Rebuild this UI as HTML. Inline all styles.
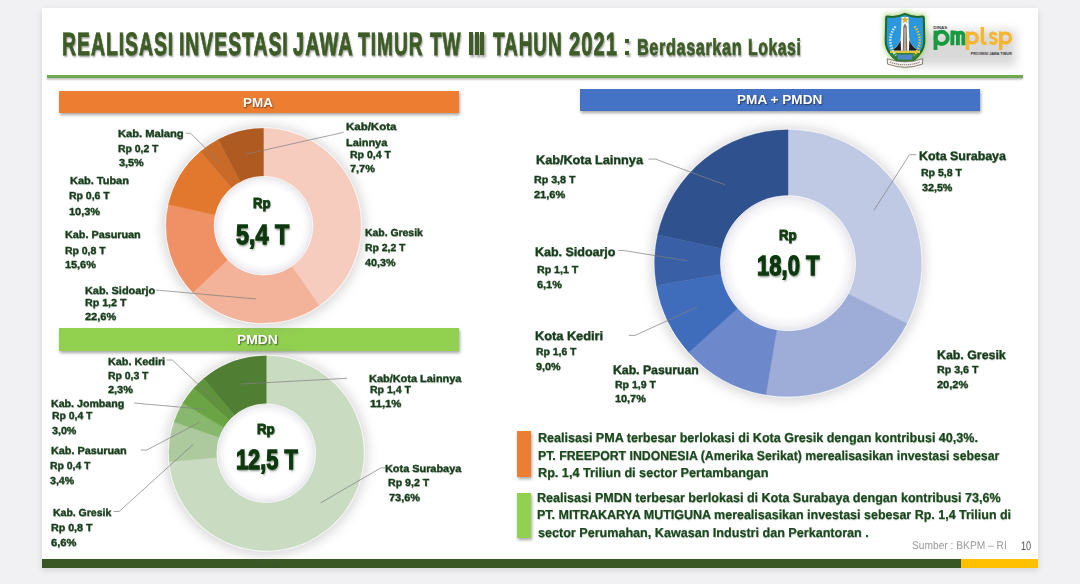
<!DOCTYPE html>
<html><head><meta charset="utf-8"><title>Realisasi Investasi Jawa Timur</title>
<style>
html,body{margin:0;padding:0}
body{width:1080px;height:584px;overflow:hidden;background:#f1f1f4;font-family:"Liberation Sans",sans-serif;position:relative}
.slide{position:absolute;left:42px;top:7.5px;width:996px;height:560.5px;background:#fff;box-shadow:0 2px 6px rgba(0,0,0,.13)}
.abs{position:absolute}
.chart{position:absolute;left:0;top:0}
.t{position:absolute;white-space:nowrap;line-height:1;transform-origin:0 0;font-weight:bold;text-rendering:geometricPrecision;color:#173c1b}
.lab{text-shadow:.4px .6px .8px rgba(20,50,20,.3);-webkit-text-stroke:.35px #173c1b}
.para{color:#1a481d;text-shadow:.4px .6px .8px rgba(20,50,20,.28);-webkit-text-stroke:.2px #1a481d}
.ban{color:#fff;text-shadow:.8px 1px 1.5px rgba(0,0,0,.55)}
.src{font-weight:normal;color:#989898}
.pg{font-weight:normal;color:#555}
.ctr{color:#123d12;text-shadow:.8px 1.2px 1.5px rgba(0,30,0,.45);-webkit-text-stroke:.9px #123d12}
.ctrb{color:#0d380e;text-shadow:1px 1.5px 2.5px rgba(0,30,0,.5);-webkit-text-stroke:1.3px #0d380e}
.ttl{color:#3d5c26;text-shadow:1.6px 2.2px 2.5px rgba(0,0,0,.4);-webkit-text-stroke:.9px #3d5c26}
.ttl2{color:#3d5c26;text-shadow:1.3px 1.8px 2px rgba(0,0,0,.4);-webkit-text-stroke:.7px #3d5c26}
.bar{position:absolute;box-shadow:1px 2px 3px rgba(0,0,0,.35)}
</style></head>
<body>
<div class="slide"></div>
<div class="abs" style="left:47px;top:74.6px;width:975.5px;height:3.6px;background:#6ea84f;box-shadow:0 1.5px 2px rgba(0,0,0,.3)"></div>
<div class="bar" style="left:58.8px;top:91.3px;width:400.7px;height:21.7px;background:#ed7d31"></div>
<div class="bar" style="left:58.8px;top:328px;width:400.5px;height:23.2px;background:#92d050"></div>
<div class="bar" style="left:580px;top:88.8px;width:400px;height:22.5px;background:#4472c4"></div>
<div class="bar" style="left:517px;top:431.3px;width:14.3px;height:45.7px;background:#ed7d31"></div>
<div class="bar" style="left:517px;top:493px;width:13.8px;height:44.5px;background:#92d050"></div>
<div class="abs" style="left:42px;top:559px;width:919px;height:9px;background:#385723"></div>
<div class="abs" style="left:960.5px;top:559px;width:77.5px;height:9px;background:#ffc000"></div>
<div class="abs" style="left:624.8px;top:38.9px;width:4.3px;height:4.2px;background:#3d5c26;box-shadow:1.5px 2px 2px rgba(0,0,0,.35)"></div>
<div class="abs" style="left:624.8px;top:51.2px;width:4.3px;height:4.2px;background:#3d5c26;box-shadow:1.5px 2px 2px rgba(0,0,0,.35)"></div>
<div class="abs" style="left:469.3px;top:32.1px;width:3.9px;height:23.3px;background:#3d5c26;box-shadow:1.6px 2.2px 2.5px rgba(0,0,0,.4)"></div>
<div class="abs" style="left:474.8px;top:32.1px;width:3.9px;height:23.3px;background:#3d5c26;box-shadow:1.6px 2.2px 2.5px rgba(0,0,0,.4)"></div>
<div class="abs" style="left:480.3px;top:32.1px;width:3.9px;height:23.3px;background:#3d5c26;box-shadow:1.6px 2.2px 2.5px rgba(0,0,0,.4)"></div>
<svg class="chart" width="1080" height="584" viewBox="0 0 1080 584">
<defs>
<filter id="sh" x="-30%" y="-30%" width="160%" height="160%"><feGaussianBlur stdDeviation="6"/></filter>
<filter id="hb" x="-20%" y="-20%" width="140%" height="140%"><feGaussianBlur stdDeviation="2.4"/></filter>
<radialGradient id="hg"><stop offset="0" stop-color="#fff"/><stop offset=".8" stop-color="#fff"/><stop offset=".93" stop-color="#f3f3f6"/><stop offset="1" stop-color="#e3e3ea"/></radialGradient>
</defs>
<circle cx="263.5" cy="226.7" r="101" fill="#7a7a7a" opacity=".3" filter="url(#sh)"/>
<circle cx="263.5" cy="225.7" r="98.5" fill="#fff" opacity=".85"/>
<path d="M263.50,128.30A97.4,97.4 0 0 1 319.25,305.56L291.15,265.30A48.3,48.3 0 0 0 263.50,177.40Z" fill="#f6ccbe" stroke="#f6ccbe" stroke-width=".4"/>
<path d="M319.25,305.56A97.4,97.4 0 0 1 192.92,292.82L228.50,258.98A48.3,48.3 0 0 0 291.15,265.30Z" fill="#f3b29a" stroke="#f3b29a" stroke-width=".4"/>
<path d="M192.92,292.82A97.4,97.4 0 0 1 168.45,204.45L216.36,215.16A48.3,48.3 0 0 0 228.50,258.98Z" fill="#ef9164" stroke="#ef9164" stroke-width=".4"/>
<path d="M168.45,204.45A97.4,97.4 0 0 1 200.48,151.44L232.25,188.87A48.3,48.3 0 0 0 216.36,215.16Z" fill="#e2772e" stroke="#e2772e" stroke-width=".4"/>
<path d="M200.48,151.44A97.4,97.4 0 0 1 218.19,139.48L241.03,182.94A48.3,48.3 0 0 0 232.25,188.87Z" fill="#ca6a28" stroke="#ca6a28" stroke-width=".4"/>
<path d="M218.19,139.48A97.4,97.4 0 0 1 263.50,128.30L263.50,177.40A48.3,48.3 0 0 0 241.03,182.94Z" fill="#ae5a21" stroke="#ae5a21" stroke-width=".4"/>
<circle cx="263.5" cy="225.7" r="49.3" fill="url(#hg)" stroke="#fff" stroke-opacity=".75" stroke-width="1"/>
<circle cx="266.3" cy="454.2" r="101" fill="#7a7a7a" opacity=".3" filter="url(#sh)"/>
<circle cx="266.3" cy="453.2" r="98.5" fill="#fff" opacity=".85"/>
<path d="M266.30,355.80A97.4,97.4 0 1 1 169.28,461.76L218.19,457.44A48.3,48.3 0 1 0 266.30,404.90Z" fill="#c9dbc1" stroke="#c9dbc1" stroke-width=".4"/>
<path d="M169.28,461.76A97.4,97.4 0 0 1 174.05,421.94L220.56,437.70A48.3,48.3 0 0 0 218.19,457.44Z" fill="#acca9e" stroke="#acca9e" stroke-width=".4"/>
<path d="M174.05,421.94A97.4,97.4 0 0 1 182.78,403.09L224.88,428.35A48.3,48.3 0 0 0 220.56,437.70Z" fill="#88b76e" stroke="#88b76e" stroke-width=".4"/>
<path d="M182.78,403.09A97.4,97.4 0 0 1 193.65,388.33L230.27,421.03A48.3,48.3 0 0 0 224.88,428.35Z" fill="#6ba543" stroke="#6ba543" stroke-width=".4"/>
<path d="M193.65,388.33A97.4,97.4 0 0 1 203.74,378.54L235.28,416.18A48.3,48.3 0 0 0 230.27,421.03Z" fill="#5f933b" stroke="#5f933b" stroke-width=".4"/>
<path d="M203.74,378.54A97.4,97.4 0 0 1 266.30,355.80L266.30,404.90A48.3,48.3 0 0 0 235.28,416.18Z" fill="#507e32" stroke="#507e32" stroke-width=".4"/>
<circle cx="266.3" cy="453.2" r="49.3" fill="url(#hg)" stroke="#fff" stroke-opacity=".75" stroke-width="1"/>
<circle cx="788" cy="264.2" r="137" fill="#7a7a7a" opacity=".3" filter="url(#sh)"/>
<circle cx="788" cy="263.2" r="134.5" fill="#fff" opacity=".85"/>
<path d="M788.00,129.80A133.4,133.4 0 0 1 906.98,323.52L847.22,293.22A66.4,66.4 0 0 0 788.00,196.80Z" fill="#c0c9e4" stroke="#c0c9e4" stroke-width=".4"/>
<path d="M906.98,323.52A133.4,133.4 0 0 1 765.91,394.76L777.01,328.68A66.4,66.4 0 0 0 847.22,293.22Z" fill="#9eadd8" stroke="#9eadd8" stroke-width=".4"/>
<path d="M765.91,394.76A133.4,133.4 0 0 1 688.85,352.44L738.65,307.62A66.4,66.4 0 0 0 777.01,328.68Z" fill="#6d89cb" stroke="#6d89cb" stroke-width=".4"/>
<path d="M688.85,352.44A133.4,133.4 0 0 1 656.48,285.49L722.53,274.30A66.4,66.4 0 0 0 738.65,307.62Z" fill="#406dbb" stroke="#406dbb" stroke-width=".4"/>
<path d="M656.48,285.49A133.4,133.4 0 0 1 657.67,234.74L723.13,249.03A66.4,66.4 0 0 0 722.53,274.30Z" fill="#3960a7" stroke="#3960a7" stroke-width=".4"/>
<path d="M657.67,234.74A133.4,133.4 0 0 1 788.00,129.80L788.00,196.80A66.4,66.4 0 0 0 723.13,249.03Z" fill="#2f528f" stroke="#2f528f" stroke-width=".4"/>
<circle cx="788" cy="263.2" r="67.4" fill="url(#hg)" stroke="#fff" stroke-opacity=".75" stroke-width="1"/>
<polyline points="185.8,133.3 190.5,133.3 222.3,164.7" fill="none" stroke="#808080" stroke-opacity=".85" stroke-width=".85"/><polyline points="343.8,132.3 245.9,154.2" fill="none" stroke="#808080" stroke-opacity=".85" stroke-width=".85"/><polyline points="155.8,290.0 256.1,299.0" fill="none" stroke="#808080" stroke-opacity=".85" stroke-width=".85"/><polyline points="166.7,360.0 172.3,360.0 215.0,400.3" fill="none" stroke="#808080" stroke-opacity=".85" stroke-width=".85"/><polyline points="134.1,403.0 207.0,409.5" fill="none" stroke="#808080" stroke-opacity=".85" stroke-width=".85"/><polyline points="140.7,450.0 146.8,450.0 199.5,422.3" fill="none" stroke="#808080" stroke-opacity=".85" stroke-width=".85"/><polyline points="113.6,511.5 119.1,511.5 193.2,444.4" fill="none" stroke="#808080" stroke-opacity=".85" stroke-width=".85"/><polyline points="347.1,378.3 241.1,384.0" fill="none" stroke="#808080" stroke-opacity=".85" stroke-width=".85"/><polyline points="385.0,467.8 381.0,467.8 320.6,502.9" fill="none" stroke="#808080" stroke-opacity=".85" stroke-width=".85"/><polyline points="916.3,154.7 909.5,154.7 873.8,210.5" fill="none" stroke="#808080" stroke-opacity=".85" stroke-width=".85"/><polyline points="648.4,159.1 655.6,159.1 724.8,184.8" fill="none" stroke="#808080" stroke-opacity=".85" stroke-width=".85"/><polyline points="618.2,250.5 623.8,250.5 687.3,260.8" fill="none" stroke="#808080" stroke-opacity=".85" stroke-width=".85"/><polyline points="628.9,335.4 635.0,335.4 697.3,307.0" fill="none" stroke="#808080" stroke-opacity=".85" stroke-width=".85"/>
</svg>
<svg class="chart" width="1080" height="584" viewBox="0 0 1080 584">
<defs>
<filter id="lb" x="-30%" y="-30%" width="160%" height="160%"><feGaussianBlur stdDeviation="5"/></filter>
<filter id="gb" x="-30%" y="-30%" width="160%" height="160%"><feGaussianBlur stdDeviation="2.2"/></filter>
</defs>
<rect x="908" y="30" width="108" height="36" fill="#777" opacity=".27" filter="url(#lb)"/>
<g transform="translate(885,13.5)">
<path d="M1.2,4.5 C1.2,3.2 2,2.8 3,3 C8,4 14,3.2 20,.4 C26,3.2 32,4 37,3 C38,2.8 38.8,3.2 38.8,4.5 L39.3,27 C39.6,39 30,46.5 20,52 C10,46.5 .4,39 .7,27Z" fill="#9ccf6a" opacity=".75" filter="url(#gb)" transform="translate(20,26) scale(1.12) translate(-20,-26)"/>
<path d="M1.2,4.5 C1.2,3.2 2,2.8 3,3 C8,4 14,3.2 20,.4 C26,3.2 32,4 37,3 C38,2.8 38.8,3.2 38.8,4.5 L39.3,27 C39.6,39 30,46.5 20,52 C10,46.5 .4,39 .7,27Z" fill="#2b97dd" stroke="#1d6a2c" stroke-width="2.1" stroke-linejoin="round"/>
<path d="M5,37 L35,37 L35,39.6 L5,39.6Z" fill="#e6c63c"/>
<path d="M4.5,39.6 L35.5,39.6 C34,45 27,48 20,50.5 C13,48 6,45 4.5,39.6Z" fill="#2e7f36"/>
<path d="M12,41 L28,41 L27,46 L13,46Z" fill="#4f86c8"/>
<path d="M16.6,3.5 L23.4,3.5 L24.2,24 C25,31 30,35 34,37 L6,37 C10,35 15,31 15.8,24Z" fill="#f6f6f4"/>
<path d="M6,37 C10.5,35.2 14,31.5 15.6,26.5 L16,37Z M34,37 C29.5,35.2 26,31.5 24.4,26.5 L24,37Z" fill="#1c1c1c"/>
<path d="M18.3,13 L20,10 L21.7,13 L22.2,37 L17.8,37Z" fill="#85705f"/>
<path d="M19.6,14 L20.4,14 L20.5,37 L19.5,37Z" fill="#e8e2da"/>
<path d="M20,2.2 L21,5 L24,5.2 L21.6,7 L22.5,9.8 L20,8.2 L17.5,9.8 L18.4,7 L16,5.2 L19,5Z" fill="#d9b02e"/>
<path d="M10.5,13 C3.5,21 3.5,33 11,42" fill="none" stroke="#c9f0df" stroke-width="2.6" stroke-dasharray="1.5 1.3"/>
<path d="M29.5,13 C36.5,21 36.5,33 29,42" fill="none" stroke="#d8c63a" stroke-width="2.6" stroke-dasharray="1.5 1.3"/>
<path d="M2.2,45.2 Q20,51.5 37.8,45.2 L37.4,50.6 Q20,57 2.6,50.6Z" fill="#f3f1ee" stroke="#56503f" stroke-width=".7"/>
<path d="M5,48.6 Q20,54 35,48.6" fill="none" stroke="#8a6f6f" stroke-width="1.1" stroke-dasharray="1.2 .8"/>
</g>
<g fill="none" stroke-linecap="butt" stroke-linejoin="round">
<g stroke="#179a40" stroke-width="3.9">
<path d="M935.5,30.6 V50"/><circle cx="941.6" cy="37.9" r="6.1"/>
<path d="M952.4,30.6 V45.2 M952.4,35.4 A2.75,2.75 0 0 1 957.9,35.4 V45.2 M957.9,35.4 A2.75,2.75 0 0 1 963.4,35.4 V45.2"/>
</g>
<g stroke="#f6b630" stroke-width="3.4">
<path d="M967.4,31.5 V50"/><circle cx="972.3" cy="38" r="4.9"/>
<path d="M982.4,27 V41 Q982.4,43.6 986.6,43.4"/>
<path d="M996.6,35 Q993.4,31.6 990.8,34 Q989.3,37 993.4,38.1 Q997.6,39.4 996,42.2 Q993.4,45 989.6,41.8" stroke-width="3"/>
<path d="M1000.7,31.5 V50"/><circle cx="1005.6" cy="38" r="4.9"/>
</g>
</g>
<text x="933.3" y="28.9" font-family="Liberation Sans, sans-serif" font-weight="bold" font-size="4.4" fill="#3a3a3a" textLength="13.9" lengthAdjust="spacingAndGlyphs">DINAS</text>
<text x="970.8" y="55.1" font-family="Liberation Sans, sans-serif" font-weight="bold" font-size="3.3" fill="#333" textLength="41" lengthAdjust="spacingAndGlyphs">PROVINSI JAWA TIMUR</text>
</svg>

<span class="t lab" id="t0" style="left:118.12px;top:130.00px;font-size:10.3px;letter-spacing:0px;transform:scaleX(1.0829)">Kab. Malang</span>
<span class="t lab" id="t1" style="left:118.17px;top:145.00px;font-size:10.3px;letter-spacing:0px;transform:scaleX(1.0083)">Rp 0,2 T</span>
<span class="t lab" id="t2" style="left:118.54px;top:159.00px;font-size:10.3px;letter-spacing:0px;transform:scaleX(1.0478)">3,5%</span>
<span class="t lab" id="t3" style="left:69.83px;top:177.00px;font-size:10.3px;letter-spacing:0px;transform:scaleX(1.0648)">Kab. Tuban</span>
<span class="t lab" id="t4" style="left:69.37px;top:192.00px;font-size:10.3px;letter-spacing:0px;transform:scaleX(1.0159)">Rp 0,6 T</span>
<span class="t lab" id="t5" style="left:69.34px;top:208.00px;font-size:10.3px;letter-spacing:0px;transform:scaleX(1.0619)">10,3%</span>
<span class="t lab" id="t6" style="left:65.34px;top:231.00px;font-size:10.3px;letter-spacing:0px;transform:scaleX(1.0497)">Kab. Pasuruan</span>
<span class="t lab" id="t7" style="left:65.37px;top:247.00px;font-size:10.3px;letter-spacing:0px;transform:scaleX(1.0133)">Rp 0,8 T</span>
<span class="t lab" id="t8" style="left:65.34px;top:261.00px;font-size:10.3px;letter-spacing:0px;transform:scaleX(1.0549)">15,6%</span>
<span class="t lab" id="t9" style="left:84.64px;top:287.00px;font-size:10.3px;letter-spacing:0px;transform:scaleX(1.0570)">Kab. Sidoarjo</span>
<span class="t lab" id="t10" style="left:84.65px;top:299.00px;font-size:10.3px;letter-spacing:0px;transform:scaleX(1.0337)">Rp 1,2 T</span>
<span class="t lab" id="t11" style="left:84.90px;top:313.00px;font-size:10.3px;letter-spacing:0px;transform:scaleX(1.0667)">22,6%</span>
<span class="t lab" id="t12" style="left:346.00px;top:123.00px;font-size:10.3px;letter-spacing:0px;transform:scaleX(1.1137)">Kab/Kota</span>
<span class="t lab" id="t13" style="left:346.04px;top:139.00px;font-size:10.3px;letter-spacing:0px;transform:scaleX(1.0606)">Lainnya</span>
<span class="t lab" id="t14" style="left:350.16px;top:151.00px;font-size:10.3px;letter-spacing:0px;transform:scaleX(1.0184)">Rp 0,4 T</span>
<span class="t lab" id="t15" style="left:350.40px;top:165.00px;font-size:10.3px;letter-spacing:0px;transform:scaleX(1.0579)">7,7%</span>
<span class="t lab" id="t16" style="left:364.97px;top:229.00px;font-size:10.3px;letter-spacing:0px;transform:scaleX(1.0106)">Kab. Gresik</span>
<span class="t lab" id="t17" style="left:364.97px;top:244.00px;font-size:10.3px;letter-spacing:0px;transform:scaleX(1.0083)">Rp 2,2 T</span>
<span class="t lab" id="t18" style="left:365.47px;top:259.00px;font-size:10.3px;letter-spacing:0px;transform:scaleX(1.0435)">40,3%</span>
<span class="t lab" id="t19" style="left:107.54px;top:358.00px;font-size:10.3px;letter-spacing:0px;transform:scaleX(1.0509)">Kab. Kediri</span>
<span class="t lab" id="t20" style="left:107.57px;top:372.00px;font-size:10.3px;letter-spacing:0px;transform:scaleX(1.0083)">Rp 0,3 T</span>
<span class="t lab" id="t21" style="left:107.80px;top:386.00px;font-size:10.3px;letter-spacing:0px;transform:scaleX(1.0623)">2,3%</span>
<span class="t lab" id="t22" style="left:50.65px;top:400.00px;font-size:10.3px;letter-spacing:0px;transform:scaleX(1.0327)">Kab. Jombang</span>
<span class="t lab" id="t23" style="left:52.07px;top:412.00px;font-size:10.3px;letter-spacing:0px;transform:scaleX(1.0083)">Rp 0,4 T</span>
<span class="t lab" id="t24" style="left:52.44px;top:427.00px;font-size:10.3px;letter-spacing:0px;transform:scaleX(1.0391)">3,0%</span>
<span class="t lab" id="t25" style="left:51.24px;top:447.00px;font-size:10.3px;letter-spacing:0px;transform:scaleX(1.0497)">Kab. Pasuruan</span>
<span class="t lab" id="t26" style="left:49.67px;top:462.00px;font-size:10.3px;letter-spacing:0px;transform:scaleX(1.0083)">Rp 0,4 T</span>
<span class="t lab" id="t27" style="left:50.04px;top:477.00px;font-size:10.3px;letter-spacing:0px;transform:scaleX(1.0261)">3,4%</span>
<span class="t lab" id="t28" style="left:52.76px;top:509.00px;font-size:10.3px;letter-spacing:0px;transform:scaleX(1.0177)">Kab. Gresik</span>
<span class="t lab" id="t29" style="left:50.65px;top:524.00px;font-size:10.3px;letter-spacing:0px;transform:scaleX(1.0337)">Rp 0,8 T</span>
<span class="t lab" id="t30" style="left:50.90px;top:539.00px;font-size:10.3px;letter-spacing:0px;transform:scaleX(1.0798)">6,6%</span>
<span class="t lab" id="t31" style="left:369.14px;top:375.00px;font-size:10.3px;letter-spacing:0px;transform:scaleX(1.0628)">Kab/Kota Lainnya</span>
<span class="t lab" id="t32" style="left:370.16px;top:386.00px;font-size:10.3px;letter-spacing:0px;transform:scaleX(1.0184)">Rp 1,4 T</span>
<span class="t lab" id="t33" style="left:370.12px;top:400.00px;font-size:10.3px;letter-spacing:0px;transform:scaleX(1.0955)">11,1%</span>
<span class="t lab" id="t34" style="left:384.94px;top:465.00px;font-size:10.3px;letter-spacing:0px;transform:scaleX(1.0573)">Kota Surabaya</span>
<span class="t lab" id="t35" style="left:388.26px;top:479.00px;font-size:10.3px;letter-spacing:0px;transform:scaleX(1.0286)">Rp 9,2 T</span>
<span class="t lab" id="t36" style="left:388.50px;top:494.00px;font-size:10.3px;letter-spacing:0px;transform:scaleX(1.0596)">73,6%</span>
<span class="t lab" id="t37" style="left:535.63px;top:154.00px;font-size:12.3px;letter-spacing:0px;transform:scaleX(1.0295)">Kab/Kota Lainnya</span>
<span class="t lab" id="t38" style="left:534.15px;top:176.00px;font-size:10.3px;letter-spacing:0px;transform:scaleX(1.0337)">Rp 3,8 T</span>
<span class="t lab" id="t39" style="left:534.40px;top:191.00px;font-size:10.3px;letter-spacing:0px;transform:scaleX(1.0667)">21,6%</span>
<span class="t lab" id="t40" style="left:534.64px;top:246.00px;font-size:12.3px;letter-spacing:0px;transform:scaleX(1.0141)">Kab. Sidoarjo</span>
<span class="t lab" id="t41" style="left:536.86px;top:266.00px;font-size:10.3px;letter-spacing:0px;transform:scaleX(1.0286)">Rp 1,1 T</span>
<span class="t lab" id="t42" style="left:537.10px;top:281.00px;font-size:10.3px;letter-spacing:0px;transform:scaleX(1.0579)">6,1%</span>
<span class="t lab" id="t43" style="left:534.62px;top:330.00px;font-size:12.3px;letter-spacing:0px;transform:scaleX(1.0375)">Kota Kediri</span>
<span class="t lab" id="t44" style="left:536.17px;top:348.00px;font-size:10.3px;letter-spacing:0px;transform:scaleX(1.0083)">Rp 1,6 T</span>
<span class="t lab" id="t45" style="left:536.41px;top:363.00px;font-size:10.3px;letter-spacing:0px;transform:scaleX(1.0448)">9,0%</span>
<span class="t lab" id="t46" style="left:613.35px;top:364.00px;font-size:12.3px;letter-spacing:0px;transform:scaleX(0.9950)">Kab. Pasuruan</span>
<span class="t lab" id="t47" style="left:614.86px;top:381.00px;font-size:10.3px;letter-spacing:0px;transform:scaleX(1.0184)">Rp 1,9 T</span>
<span class="t lab" id="t48" style="left:614.84px;top:395.00px;font-size:10.3px;letter-spacing:0px;transform:scaleX(1.0549)">10,7%</span>
<span class="t lab" id="t49" style="left:919.04px;top:150.00px;font-size:12.3px;letter-spacing:0px;transform:scaleX(1.0094)">Kota Surabaya</span>
<span class="t lab" id="t50" style="left:921.16px;top:169.00px;font-size:10.3px;letter-spacing:0px;transform:scaleX(1.0184)">Rp 5,8 T</span>
<span class="t lab" id="t51" style="left:921.54px;top:184.00px;font-size:10.3px;letter-spacing:0px;transform:scaleX(1.0410)">32,5%</span>
<span class="t lab" id="t52" style="left:936.95px;top:349.00px;font-size:12.3px;letter-spacing:0px;transform:scaleX(1.0055)">Kab. Gresik</span>
<span class="t lab" id="t53" style="left:937.05px;top:366.00px;font-size:10.3px;letter-spacing:0px;transform:scaleX(1.0337)">Rp 3,6 T</span>
<span class="t lab" id="t54" style="left:937.30px;top:381.00px;font-size:10.3px;letter-spacing:0px;transform:scaleX(1.0667)">20,2%</span>
<span class="t para" id="t55" style="left:537.96px;top:431.00px;font-size:13.0px;letter-spacing:0px;transform:scaleX(0.9644)">Realisasi PMA terbesar berlokasi di Kota Gresik dengan kontribusi 40,3%.</span>
<span class="t para" id="t56" style="left:537.97px;top:449.00px;font-size:13.0px;letter-spacing:0px;transform:scaleX(0.9453)">PT. FREEPORT INDONESIA (Amerika Serikat) merealisasikan investasi sebesar</span>
<span class="t para" id="t57" style="left:537.95px;top:466.00px;font-size:13.0px;letter-spacing:0px;transform:scaleX(0.9722)">Rp. 1,4 Triliun di sector Pertambangan</span>
<span class="t para" id="t58" style="left:537.16px;top:491.00px;font-size:13.0px;letter-spacing:0px;transform:scaleX(0.9650)">Realisasi PMDN terbesar berlokasi di Kota Surabaya dengan kontribusi 73,6%</span>
<span class="t para" id="t59" style="left:537.16px;top:508.00px;font-size:13.0px;letter-spacing:0px;transform:scaleX(0.9603)">PT. MITRAKARYA MUTIGUNA merealisasikan investasi sebesar Rp. 1,4 Triliun di</span>
<span class="t para" id="t60" style="left:537.52px;top:526.00px;font-size:13.0px;letter-spacing:0px;transform:scaleX(0.9680)">sector Perumahan, Kawasan Industri dan Perkantoran .</span>
<span class="t ban" id="t61" style="left:242.89px;top:96.00px;font-size:13px;letter-spacing:0px;transform:scaleX(1.0389)">PMA</span>
<span class="t ban" id="t62" style="left:237.07px;top:333.00px;font-size:13px;letter-spacing:0px;transform:scaleX(1.0685)">PMDN</span>
<span class="t ban" id="t63" style="left:737.08px;top:93.00px;font-size:13px;letter-spacing:0px;transform:scaleX(1.0467)">PMA + PMDN</span>
<span class="t src" id="t64" style="left:911.54px;top:541.00px;font-size:11.2px;letter-spacing:0px;transform:scaleX(0.9133)">Sumber : BKPM – RI</span>
<span class="t pg" id="t65" style="left:1020.66px;top:540.00px;font-size:12.4px;letter-spacing:0px;transform:scaleX(0.7360)">10</span>
<span class="t ctr" id="t66" style="left:253.29px;top:197.00px;font-size:14.5px;letter-spacing:0px;transform:scaleX(0.9070)">Rp</span>
<span class="t ctrb" id="t67" style="left:236.16px;top:221.00px;font-size:27.8px;letter-spacing:0px;transform:scaleX(0.8402)">5,4 T</span>
<span class="t ctr" id="t68" style="left:257.08px;top:423.00px;font-size:14.5px;letter-spacing:0px;transform:scaleX(0.9183)">Rp</span>
<span class="t ctrb" id="t69" style="left:235.53px;top:446.00px;font-size:27.8px;letter-spacing:0px;transform:scaleX(0.7831)">12,5 T</span>
<span class="t ctr" id="t70" style="left:778.69px;top:229.00px;font-size:14.5px;letter-spacing:0px;transform:scaleX(0.9127)">Rp</span>
<span class="t ctrb" id="t71" style="left:756.61px;top:252.00px;font-size:27.8px;letter-spacing:0px;transform:scaleX(0.7935)">18,0 T</span>
<span class="t ttl" id="t72" style="left:61.82px;top:28.00px;font-size:32.2px;letter-spacing:1.6px;transform:scaleX(0.6031)">REALISASI</span>
<span class="t ttl" id="t73" style="left:178.82px;top:28.00px;font-size:32.2px;letter-spacing:1.6px;transform:scaleX(0.6030)">INVESTASI</span>
<span class="t ttl" id="t74" style="left:292.89px;top:28.00px;font-size:32.2px;letter-spacing:1.6px;transform:scaleX(0.6225)">JAWA</span>
<span class="t ttl" id="t75" style="left:358.38px;top:28.00px;font-size:32.2px;letter-spacing:1.6px;transform:scaleX(0.5958)">TIMUR</span>
<span class="t ttl" id="t76" style="left:430.08px;top:28.00px;font-size:32.2px;letter-spacing:1.6px;transform:scaleX(0.5932)">TW</span>
<span class="t ttl" id="t77" style="left:492.68px;top:28.00px;font-size:32.2px;letter-spacing:1.6px;transform:scaleX(0.5880)">TAHUN</span>
<span class="t ttl" id="t78" style="left:568.59px;top:28.00px;font-size:32.2px;letter-spacing:1.6px;transform:scaleX(0.6279)">2021</span>
<span class="t ttl2" id="t79" style="left:637.13px;top:36.00px;font-size:23px;letter-spacing:0.8px;transform:scaleX(0.7100)">Berdasarkan</span>
<span class="t ttl2" id="t80" style="left:747.67px;top:36.00px;font-size:23px;letter-spacing:0.8px;transform:scaleX(0.6875)">Lokasi</span>
</body></html>
